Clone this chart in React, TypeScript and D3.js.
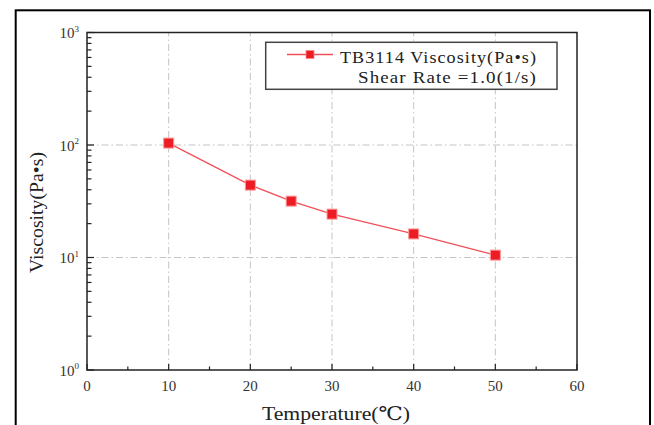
import * as d3 from "d3";
import React from "react";

// values
const temperatures = [10, 20, 25, 30, 40, 50];
const viscosities = [104, 44, 31.7, 24.3, 16.2, 10.5];
const xTicks = [0, 10, 20, 30, 40, 50, 60];
const xMinorTicks = [5, 15, 25, 35, 45, 55];
const yExponents = [0, 1, 2, 3];
const legendLines = ["TB3114 Viscosity(Pa•s)", "Shear Rate =1.0(1/s)"];

const width = 654;
const height = 425;
const margin = { top: 32.5, right: 77, bottom: 55, left: 87 };
const font = "'Liberation Serif', 'DejaVu Serif', serif";

export default function App() {
  const x = d3.scaleLinear().domain([0, 60]).range([margin.left, width - margin.right]);
  const y = d3.scaleLog().domain([1, 1000]).range([height - margin.bottom, margin.top]);

  const data = temperatures.map((t, i) => ({ t, v: viscosities[i] }));
  const line = d3
    .line<{ t: number; v: number }>()
    .x((d) => x(d.t))
    .y((d) => y(d.v));

  // minor ticks on the log axis: 2..9 x 10^n
  const yMinor: number[] = [];
  for (let e = 0; e < 3; e++) for (let k = 2; k <= 9; k++) yMinor.push(k * Math.pow(10, e));

  const x0 = x.range()[0];
  const x1 = x.range()[1];
  const y0 = y.range()[0];
  const y1 = y.range()[1];
  const grid = "#c4c4c4";
  const dash = "7,3,1.5,3";

  return (
    <svg
      width={width}
      height={height}
      style={{ position: "absolute", left: 0, top: 0, background: "#fff" }}
      fontFamily={font}
    >
      {/* outer frame */}
      <rect x={15.7} y={10.3} width={634.3} height={440} fill="none" stroke="#000" strokeWidth={2} />

      {/* grid */}
      {[10, 20, 30, 40, 50].map((t) => (
        <line key={"gx" + t} x1={x(t)} x2={x(t)} y1={y0} y2={y1} stroke={grid} strokeDasharray={dash} />
      ))}
      {[10, 100].map((v) => (
        <line key={"gy" + v} x1={x0} x2={x1} y1={y(v)} y2={y(v)} stroke={grid} strokeDasharray={dash} />
      ))}

      {/* x ticks */}
      {xTicks.map((t) => (
        <g key={"xt" + t}>
          <line x1={x(t)} x2={x(t)} y1={y0} y2={y0 - 6} stroke="#222" strokeWidth={1.2} />
          <text x={x(t)} y={391} textAnchor="middle" fontSize={15} fill="#333">
            {t}
          </text>
        </g>
      ))}
      {xMinorTicks.map((t) => (
        <line key={"xm" + t} x1={x(t)} x2={x(t)} y1={y0} y2={y0 - 3.5} stroke="#222" strokeWidth={1.2} />
      ))}

      {/* y ticks */}
      {yExponents.map((e) => {
        const v = Math.pow(10, e);
        return (
          <g key={"yt" + e}>
            <line x1={x0} x2={x0 + 7} y1={y(v)} y2={y(v)} stroke="#222" strokeWidth={1.2} />
            <text x={79} y={y(v) + 5.5} textAnchor="end" fontSize={15} fill="#333">
              10
              <tspan fontSize={9} dy={-6.5}>
                {e}
              </tspan>
            </text>
          </g>
        );
      })}
      {yMinor.map((v) => (
        <line key={"ym" + v} x1={x0} x2={x0 + 4.5} y1={y(v)} y2={y(v)} stroke="#222" strokeWidth={1.2} />
      ))}

      {/* plot frame */}
      <rect x={x0} y={y1} width={x1 - x0} height={y0 - y1} fill="none" stroke="#222" strokeWidth={1.5} />

      {/* series */}
      <path d={line(data) ?? ""} fill="none" stroke="#f0505a" strokeWidth={1.3} />
      {data.map((d) => (
        <rect
          key={"p" + d.t}
          x={x(d.t) - 5}
          y={y(d.v) - 5}
          width={10}
          height={10}
          fill="#ec1c24"
          stroke="#f99"
          strokeWidth={1}
        />
      ))}

      {/* legend */}
      <rect x={265.7} y={42.3} width={291.3} height={47} fill="#fff" stroke="#444" strokeWidth={1.5} />
      <line x1={287} x2={333} y1={54.5} y2={54.5} stroke="#f0505a" strokeWidth={1.3} />
      <rect x={306} y={50.5} width={8} height={8} fill="#ec1c24" stroke="#f88" strokeWidth={0.8} />
      <text x={340} y={63} fontSize={17} fill="#222" letterSpacing={1} textLength={197} lengthAdjust="spacingAndGlyphs">
        {legendLines[0]}
      </text>
      <text x={358} y={83} fontSize={17} fill="#222" letterSpacing={1} textLength={179} lengthAdjust="spacingAndGlyphs">
        {legendLines[1]}
      </text>

      {/* axis titles */}
      <text x={262} y={420} fontSize={19} fill="#222" textLength={148} lengthAdjust="spacingAndGlyphs">
        Temperature(℃)
      </text>
      <text
        transform="translate(43,273) rotate(-90)"
        fontSize={18}
        fill="#222"
        textLength={121}
        lengthAdjust="spacingAndGlyphs"
      >
        Viscosity(Pa•s)
      </text>
    </svg>
  );
}
